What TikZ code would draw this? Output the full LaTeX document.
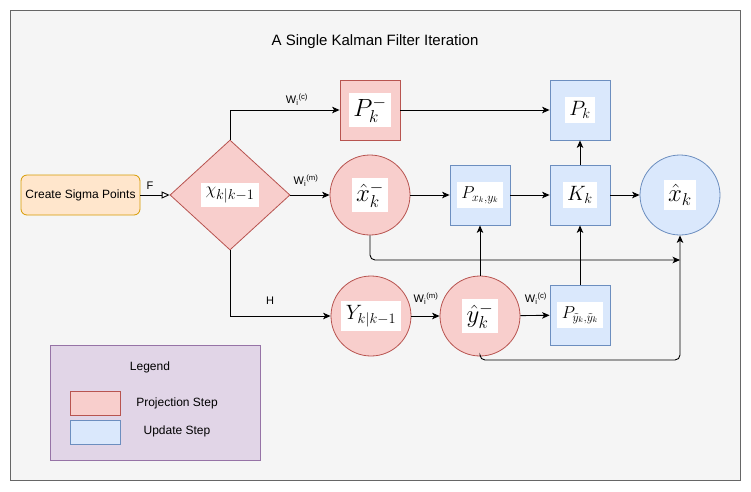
\documentclass[tikz,border=0pt]{standalone}
\usepackage[no-math]{fontspec}
\setmainfont{Liberation Sans}
\usetikzlibrary{shapes.geometric,arrows.meta}
\definecolor{bgF}{HTML}{F5F5F5}
\definecolor{bgD}{HTML}{666666}
\definecolor{redF}{HTML}{F8CECC}
\definecolor{redD}{HTML}{B85450}
\definecolor{bluF}{HTML}{DAE8FC}
\definecolor{bluD}{HTML}{6C8EBF}
\definecolor{orgF}{HTML}{FFE6CC}
\definecolor{orgD}{HTML}{D79B00}
\definecolor{purF}{HTML}{E1D5E7}
\definecolor{purD}{HTML}{9673A6}
\newcommand{\wbx}[2]{{\setlength{\fboxsep}{4.5pt}\colorbox{white}{\fontsize{#1}{#1}\selectfont$#2$}}}
\newcommand{\wlab}[1]{W\textsubscript{i}\textsuperscript{(#1)}}
\begin{document}
\begin{tikzpicture}[x=1pt,y=-1pt,
  redsty/.style={draw=redD, fill=redF, line width=0.8pt},
  blusty/.style={draw=bluD, fill=bluF, line width=0.8pt},
  sqbox/.style={rectangle, minimum width=60pt, minimum height=60pt, inner sep=0pt},
  circbox/.style={circle, minimum size=80pt, inner sep=0pt},
  arr/.style={-{Stealth[length=7.5pt,width=6.5pt,inset=2pt]}, line width=0.9pt},
  openarr/.style={-{Triangle[open,length=8pt,width=7pt,fill=white]}, line width=0.9pt},
  lbl/.style={font=\fontsize{11}{13}\selectfont, inner sep=1pt},
  txt/.style={font=\fontsize{12}{14}\selectfont, inner sep=1pt}]
\useasboundingbox (0,0) rectangle (751,491);
\draw[fill=bgF, draw=bgD, line width=1pt] (10,10) rectangle (740,480);
\node[font=\fontsize{15}{17}\selectfont] (title) at (375,42) {A Single Kalman Filter Iteration};

\node[draw=orgD, fill=orgF, line width=0.8pt, rounded corners=6pt, minimum width=119pt, minimum height=40pt, inner sep=0pt, font=\fontsize{12}{14}\selectfont] (csp) at (80.5,195) {Create Sigma Points};
\node[diamond, redsty, minimum width=120pt, minimum height=110pt, inner sep=0pt] (dia) at (230,195) {\wbx{19}{\chi_{k|k-1}}};

\node[sqbox, redsty] (pm) at (370,110) {\wbx{25}{P_k^-}};
\node[sqbox, blusty] (pk) at (580,110) {\wbx{20}{P_k}};
\node[circbox, redsty] (xm) at (370,195) {\wbx{25}{\hat{x}_k^-}};
\node[sqbox, blusty] (pxy) at (480,195) {\wbx{17}{P_{x_k,y_k}}};
\node[sqbox, blusty] (kk) at (580,195) {\wbx{21}{K_k}};
\node[circbox, blusty] (xk) at (680,195) {\wbx{25}{\hat{x}_k}};
\node[circbox, redsty] (yk) at (371,316) {\wbx{22}{Y_{k|k-1}}};
\node[circbox, redsty] (yh) at (480,316) {\wbx{25}{\hat{y}_k^-}};
\node[sqbox, blusty] (pyy) at (580,315) {\wbx{17}{P_{\tilde{y}_k,\tilde{y}_k}}};

\coordinate (j1) at (680,260);
\coordinate (j2) at (680,360);

\draw[openarr] (csp) -- (dia);
\node[lbl] (lf) at (150,186) {F};
\draw[arr] (dia.north) |- (pm.west);
\node[lbl] (lc1) at (297,100) {\wlab{c}};
\draw[arr] (dia.east) -- (xm.west);
\node[lbl] (lm1) at (306,181) {\wlab{m}};
\draw[arr] (dia.south) |- (yk.west);
\node[lbl] (lh) at (270,301) {H};
\draw[arr] (pm) -- (pk);
\draw[arr] (xm) -- (pxy);
\draw[arr] (pxy) -- (kk);
\draw[arr] (kk) -- (xk);
\draw[arr] (kk) -- (pk);
\draw[arr] (yk) -- (yh);
\node[lbl] (lm2) at (426,299) {\wlab{m}};
\draw[arr] (yh) -- (pyy);
\node[lbl] (lc2) at (536,299) {\wlab{c}};
\draw[arr] (yh.north) -- (pxy.south);
\draw[arr] (pyy.north) -- (kk.south);
\draw[arr, rounded corners=5pt] (xm.south) |- (j1);
\draw[arr, rounded corners=5pt] (yh.south) |- (j2) -- (xk.south);

\node[draw=purD, fill=purF, line width=0.8pt, minimum width=210pt, minimum height=115pt, inner sep=0pt] (leg) at (155,402.5) {};
\node[txt] (legt) at (150,367) {Legend};
\node[redsty, minimum width=50pt, minimum height=24pt, inner sep=0pt] (sw1) at (95,403) {};
\node[blusty, minimum width=50pt, minimum height=24pt, inner sep=0pt] (sw2) at (95,432) {};
\node[txt] (lt1) at (177,403) {Projection Step};
\node[txt] (lt2) at (177,431) {Update Step};
\end{tikzpicture}
\end{document}
